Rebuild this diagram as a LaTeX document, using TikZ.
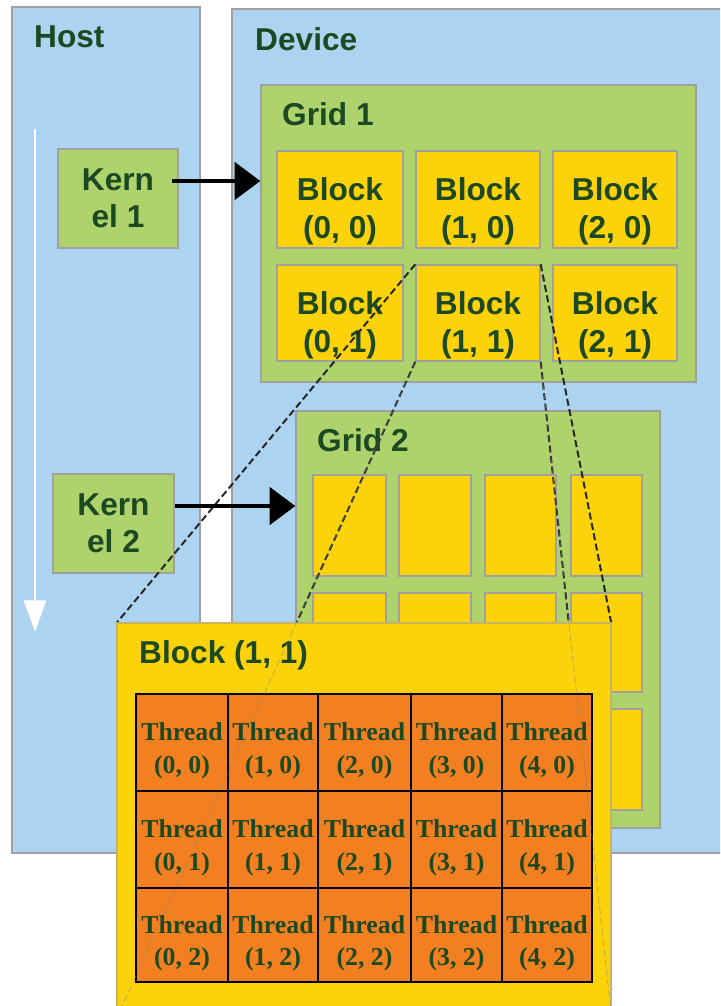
\documentclass[tikz,border=0pt]{standalone}
\usepackage{fontspec}
\setmainfont{Liberation Sans}
\newfontfamily\thrfont{Liberation Serif}
\usetikzlibrary{fit,arrows.meta}
\definecolor{hostblue}{RGB}{172,211,240}
\definecolor{gridgreen}{RGB}{174,211,108}
\definecolor{blockyellow}{RGB}{252,211,10}
\definecolor{threadorange}{RGB}{243,128,32}
\definecolor{edgegray}{RGB}{160,160,160}
\definecolor{txtgreen}{RGB}{28,72,34}
\begin{document}
\begin{tikzpicture}[x=0.03cm,y=-0.03cm,
  region/.style={fill=hostblue,draw=edgegray,line width=1.2pt,inner sep=0pt},
  gridbox/.style={fill=gridgreen,draw=edgegray,line width=1.2pt,inner sep=0pt},
  kernbox/.style={fill=gridgreen,draw=edgegray,line width=1.2pt,inner sep=0pt},
  kerntext/.style={align=center,text=txtgreen,inner sep=0pt,
    font=\fontsize{27}{32}\selectfont\bfseries},
  blockbox/.style={fill=blockyellow,draw=edgegray,line width=1.2pt,inner sep=0pt},
  bigblock/.style={fill=blockyellow,draw=edgegray!60!blockyellow,line width=1.2pt,inner sep=0pt},
  threadbox/.style={fill=threadorange,draw=black,line width=1.2pt,inner sep=0pt},
  title/.style={anchor=west,inner sep=0pt,text=txtgreen,font=\fontsize{27}{31}\selectfont\bfseries},
  blocktext/.style={align=center,text=txtgreen,inner sep=0pt,yshift=-0.36cm,
    font=\fontsize{27}{32.5}\selectfont\bfseries},
  threadtext/.style={align=center,text=txtgreen,inner sep=0pt,yshift=-0.25cm,
    font=\thrfont\fontsize{22}{27.5}\selectfont\bfseries},
  zoomline/.style={draw=black!85,line width=1.7pt,dash pattern=on 6pt off 3pt},
  faintline/.style={draw=gray,opacity=0.45,line width=0.8pt,dash pattern=on 6pt off 3pt},
  launch/.style={draw=black,line width=3pt,-{Triangle[length=22pt,width=32pt]}}
]
\useasboundingbox (0,0) rectangle (720,1006);
\clip (0,0) rectangle (720,1006);
% host and device
\node[region,fit={(12,7)(200,853)}] (host) {};
\node[region,fit={(232,9)(740,853)}] (device) {};
\node[title] (hostlbl) at (34,37) {Host};
\node[title] (devlbl) at (255,39) {Device};
% time arrow
\draw[white,line width=1.7pt,-{Triangle[length=27pt,width=19pt]}] (35,129) -- (35,632);
% kernels
\node[kernbox,fit={(58,149)(178,248)},label={[kerntext]center:{Kern\\el 1}}] (k1) {};
\node[kernbox,fit={(53,474)(174,573)},label={[kerntext]center:{Kern\\el 2}}] (k2) {};
% grid 1
\node[gridbox,fit={(261,85)(696,382)}] (g1) {};
\node[title] (g1lbl) at (282,114) {Grid 1};
\foreach \i/\xa/\xb in {0/277/403,1/416/540,2/553/677}
  \foreach \j/\ya/\yb in {0/151/248,1/265/361}
    \node[blockbox,fit={(\xa,\ya)(\xb,\yb)},
      label={[blocktext]center:{Block\\(\i, \j)}}] (g1b\i\j) {};
% grid 2
\node[gridbox,fit={(296,411)(660,828)}] (g2) {};
\node[title] (g2lbl) at (317,440) {Grid 2};
\foreach \i/\xa/\xb in {0/313/386,1/399/471,2/485/556,3/571/642}
  \foreach \j/\ya/\yb in {0/475/576,1/593/692,2/709/810}
    \node[blockbox,fit={(\xa,\ya)(\xb,\yb)}] (g2b\i\j) {};
% big block
\coordinate (bbtl) at (117,623);
\coordinate (bbbr) at (611,1018);
\node[inner sep=0pt,fit=(bbtl)(bbbr)] (bbarea) {};
\draw[zoomline] (g1b11.north west) -- (bbarea.north west);
\draw[zoomline] (g1b11.south west) -- (bbarea.south west);
\draw[zoomline] (g1b11.north east) -- (bbarea.north east);
\draw[zoomline] (g1b11.south east) -- (bbarea.south east);
\node[bigblock,fit=(bbtl)(bbbr)] (bb) {};
\node[title] (bblbl) at (139,655) {Block (1, 1)};
\foreach \i/\xa/\xb in {0/136/228,1/228/318,2/318/411,3/411/502,4/502/592}
  \foreach \j/\ya/\yb in {0/694/791,1/791/888,2/888/982}
    \node[threadbox,fit={(\xa,\ya)(\xb,\yb)},
      label={[threadtext]center:{Thread\\(\i, \j)}}] (t\i\j) {};
\draw[faintline] (g1b11.south west) -- (bb.south west);
\draw[faintline] (g1b11.south east) -- (bb.south east);
% launch arrows
\draw[launch] ([xshift=-0.21cm,yshift=0.525cm]k1.east) -- ([yshift=0.525cm]k1.east -| g1.west);
\draw[launch] ([yshift=0.525cm]k2.east) -- ([yshift=0.525cm]k2.east -| g2.west);
\end{tikzpicture}
\end{document}
